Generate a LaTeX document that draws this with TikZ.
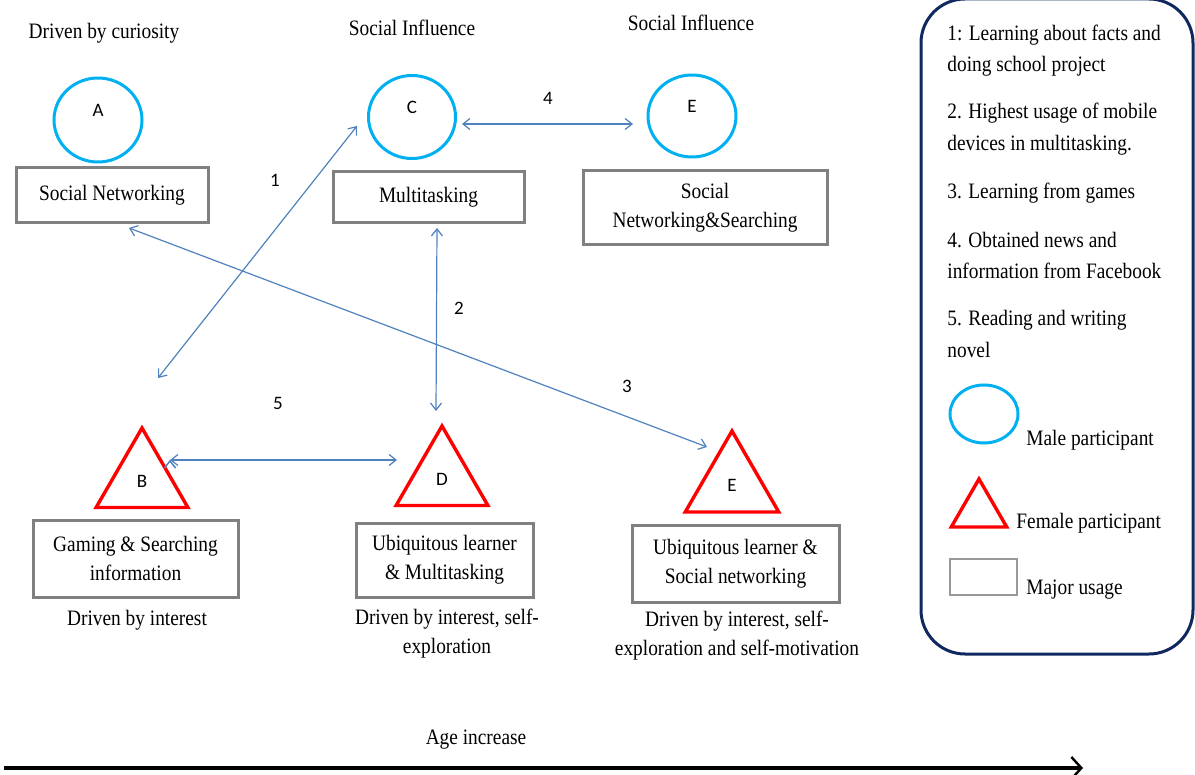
\documentclass[tikz,border=0pt]{standalone}
\usepackage{fontspec}
\setmainfont{Liberation Serif}[FakeStretch=0.88]
\newfontfamily\lettrfont{Carlito}
\usetikzlibrary{shapes.geometric,arrows.meta}
\definecolor{maleblue}{RGB}{0,176,240}
\definecolor{linkblue}{RGB}{79,129,189}
\definecolor{framenavy}{RGB}{16,40,96}
\definecolor{usagegray}{RGB}{128,128,128}

\begin{document}
\begin{tikzpicture}[x=0.5pt,y=-0.5pt,font=\fontsize{11}{14.5}\selectfont,
  male/.style={ellipse,draw=maleblue,line width=1.5pt,inner sep=0pt},
  female/.style={regular polygon,regular polygon sides=3,draw=red,line width=1.7pt,
    inner sep=0pt,font=\lettrfont\fontsize{9.5}{11}\selectfont},
  usage/.style={rectangle,draw=usagegray,line width=1.5pt,align=center,inner sep=0pt},
  letter/.style={font=\lettrfont\fontsize{9.5}{11}\selectfont,yshift=4.75pt},
  num/.style={font=\lettrfont\fontsize{9.5}{11}\selectfont},
  item/.style={anchor=west,align=left,inner sep=0pt,font=\fontsize{11}{15.8}\selectfont},
  link/.style={draw=linkblue,line width=0.6pt,<->,>={Straight Barb[length=3.5pt,width=5.5pt]}}]

  \useasboundingbox (0,0) rectangle (1195,775);

  % male participants
  \node[male,minimum width=44pt,minimum height=42pt,label={[letter]center:A}] (A) at (98,120) {};
  \node[male,minimum width=43.5pt,minimum height=41.5pt,label={[letter]center:C}] (C) at (412,117) {};
  \node[male,minimum width=44pt,minimum height=41pt,label={[letter]center:E}] (Em) at (692,116) {};

  % female participants
  \node[female,minimum size=53pt] (B) at (142,481) {B};
  \node[female,minimum size=53pt] (D) at (442,479) {D};
  \node[female,minimum size=54pt] (Ef) at (732,485) {E};

  % major usage
  \node[usage,minimum width=96pt,minimum height=27.5pt] (sn) at (112,195.5) {Social Networking};
  \node[usage,minimum width=95.5pt,minimum height=25.5pt] (mt) at (428.5,197.5) {Multitasking};
  \node[usage,minimum width=122pt,minimum height=37pt] (sns) at (705,208) {Social\\Networking\&Searching};
  \node[usage,minimum width=102.5pt,minimum height=38.5pt] (gs) at (135.5,558.5) {Gaming \& Searching\\information};
  \node[usage,minimum width=88.5pt,minimum height=37pt] (um) at (444.5,560) {Ubiquitous learner\\\& Multitasking};
  \node[usage,minimum width=103.5pt,minimum height=38.5pt] (us) at (735.5,563.5) {Ubiquitous learner \&\\Social networking};

  % drivers
  \node (curio) at (104,33) {Driven by curiosity};
  \node (infl1) at (412,28) {Social Influence};
  \node (infl2) at (691,23) {Social Influence};
  \node (int1) at (137,620) {Driven by interest};
  \node[align=center] (int2) at (447,634) {Driven by interest, self-\\exploration};
  \node[align=center] (int3) at (737,636) {Driven by interest, self-\\exploration and self-motivation};

  \path[link]
   ([shift={(16,-103)}]B.center) edge ([shift={(-55,9)}]C.center)
   ([shift={(8.5,30.5)}]mt.center) edge ([shift={(-6,-68)}]D.center)
   ([shift={(17,32.5)}]sn.center) edge ([shift={(-25,-38)}]Ef.center)
   ([shift={(50,7)}]C.center) edge ([shift={(-59,8)}]Em.center)
   ([shift={(28,-21)}]B.center) edge ([shift={(-45,-19)}]D.center);

  \node[num] (n1) at (275,180) {1};
  \node[num] (n2) at (459,308) {2};
  \node[num] (n3) at (627,386) {3};
  \node[num] (n4) at (548,98) {4};
  \node[num] (n5) at (278,403) {5};

  % legend
  \draw[framenavy,line width=1.5pt,rounded corners=22pt] (921,-1) rectangle (1193,654);
  \node[item] (l1) at (947,50.5) {1: Learning about facts and\\doing school project};
  \node[item] (l2) at (947,129) {2. Highest usage of mobile\\devices in multitasking.};
  \node[item] (l3) at (947,193) {3. Learning from games};
  \node[item] (l4) at (947,255.5) {4. Obtained news and\\information from Facebook};
  \node[item] (l5) at (947,334) {5. Reading and writing\\novel};
  \node[male,minimum width=34pt,minimum height=29pt] (lm) at (984,414) {};
  \node[item] at (1026,440) {Male participant};
  \node[female,minimum size=32pt] (lf) at (979,511) {};
  \node[item] at (1016,523) {Female participant};
  \node[usage,draw=usagegray!80,line width=1pt,minimum width=33.5pt,minimum height=18pt] (lu) at (983.5,577) {};
  \node[item] at (1026,590) {Major usage};

  % age axis
  \coordinate (age0) at (4,768);
  \coordinate (age1) at (1083,768);
  \node (age) at (476,740) {Age increase};
  \draw[line width=2pt,-{Straight Barb[length=5pt,width=11pt,line width=1.2pt]}] (age0) -- (age1);
\end{tikzpicture}
\end{document}
